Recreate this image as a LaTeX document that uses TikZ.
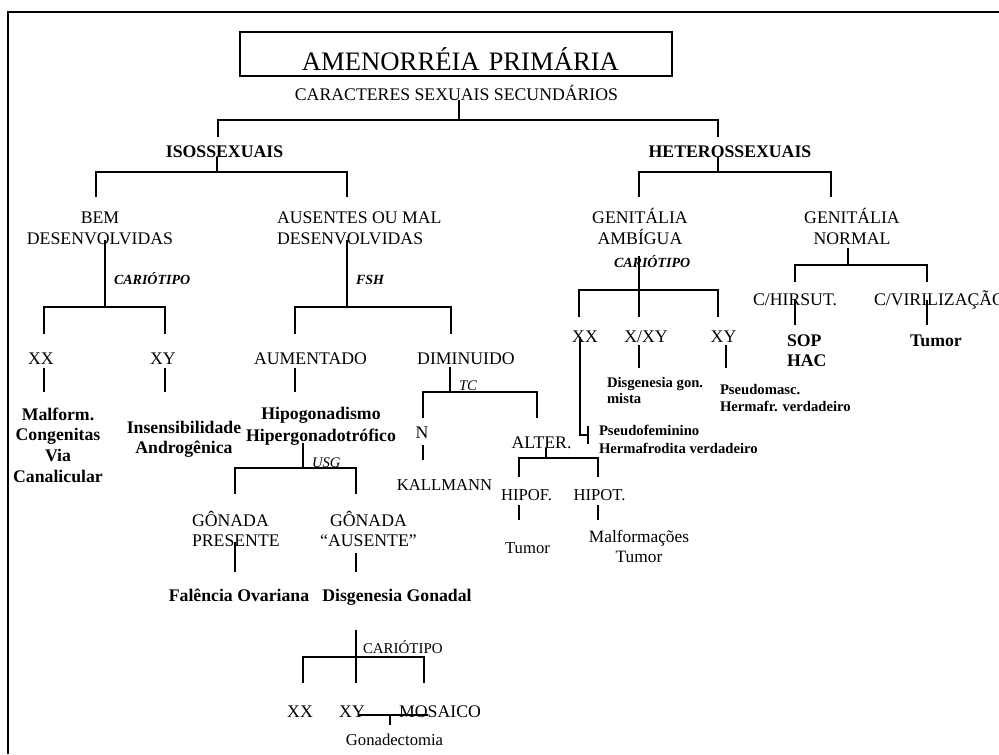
\documentclass[tikz,border=0pt]{standalone}
\usepackage{fontspec}
\setmainfont{Liberation Serif}
\begin{document}
\begin{tikzpicture}[x=0.75pt,y=-0.75pt,
  every node/.style={inner sep=0pt,outer sep=0pt,anchor=base},
  conn/.style={line width=1.5pt},
  t/.style={font=\fontsize{13.3}{15.75}\selectfont, align=center},
  tl/.style={font=\fontsize{13.3}{15}\selectfont, align=left, anchor=base west},
  tm/.style={font=\fontsize{12.5}{15}\selectfont, align=center},
  tb/.style={font=\bfseries\fontsize{13.3}{15.5}\selectfont, align=center},
  tbl/.style={font=\bfseries\fontsize{13.3}{15}\selectfont, align=left, anchor=base west},
  bi/.style={font=\bfseries\itshape\fontsize{10.5}{12}\selectfont, anchor=base west},
  it/.style={font=\itshape\fontsize{11}{12}\selectfont, anchor=base west},
  sm/.style={font=\bfseries\fontsize{11}{13}\selectfont, align=left, anchor=base west}
]
\useasboundingbox (0,0) rectangle (999,754);
% frame
\coordinate (fr1) at (8,754); \coordinate (fr2) at (8,12); \coordinate (fr3) at (999,12);
\draw[line width=2pt] (fr1) -- (fr2) -- (fr3);

% title (multi-line nodes: y is the baseline of the last line)
\node[draw, line width=1.5pt, anchor=north west, text width=324pt, text height=28.5pt,
      text depth=4.5pt, align=center, font=\fontsize{20}{24}\selectfont] (title) at (240,32)
      {\hspace*{6.75pt}AMENORRÉIA PRIMÁRIA};
\node[t] (cs) at (456.5,100) {CARACTERES SEXUAIS SECUNDÁRIOS};

\node[tb] (iso) at (224.5,157) {ISOSSEXUAIS};
\node[tb] (het) at (730,157) {HETEROSSEXUAIS};

\node[t] (bem) at (100,244) {BEM\\DESENVOLVIDAS};
\node[tl, font=\fontsize{13.3}{15.75}\selectfont] (aus) at (277,244) {AUSENTES OU MAL\\DESENVOLVIDAS};
\node[bi] (car1) at (114,284) {CARIÓTIPO};
\node[bi] (fsh) at (356,284) {FSH};
\node[t] (xx1) at (41,364) {XX};
\node[t] (xy1) at (163,364) {XY};
\node[tb] (malf) at (58,482) {Malform.\\Congenitas\\Via\\Canalicular};
\node[tb, font=\bfseries\fontsize{13.3}{15}\selectfont] (ins) at (184,453) {Insensibilidade\\Androgênica};
\node[t] (aum) at (310.5,364) {AUMENTADO};
\node[t] (dim) at (466,364) {DIMINUIDO};
\node[tb, font=\bfseries\fontsize{13.3}{16.5}\selectfont] (hipo) at (321,441) {Hipogonadismo\\Hipergonadotrófico};
\node[it] (usg) at (312,467) {USG};
\node[tl] (gp) at (192,546) {GÔNADA\\PRESENTE};
\node[t, font=\fontsize{13.3}{15}\selectfont] (ga) at (368.5,546) {GÔNADA\\“AUSENTE”};
\node[tb] (fal) at (239,601) {Falência Ovariana};
\node[tb] (dis) at (397,601) {Disgenesia Gonadal};
\node[font=\fontsize{11.2}{13}\selectfont, anchor=base west] (car3) at (363,653) {CARIÓTIPO};
\node[t] (xx3) at (300,717) {XX};
\node[t] (xy3) at (352,717) {XY};
\node[t] (mos) at (440,717) {MOSAICO};
\node[tm] (gon) at (394.5,745) {Gonadectomia};
\node[it] (tc) at (459,390) {TC};
\node[t] (n) at (422,438) {N};
\node[tm] (kal) at (444.5,490) {KALLMANN};
\node[t] (alter) at (541.5,448) {ALTER.};
\node[tm] (hipof) at (526.5,500) {HIPOF.};
\node[tm] (hipot) at (599.5,500) {HIPOT.};
\node[tm] (tum1) at (527.5,553) {Tumor};
\node[t, font=\fontsize{13}{15}\selectfont] (malfo) at (639,562) {Malformações\\Tumor};

\node[t] (gen1) at (640,244) {GENITÁLIA\\AMBÍGUA};
\node[bi] (car2) at (614,267) {CARIÓTIPO};
\node[t] (xx2) at (585,342) {XX};
\node[t] (xxy) at (646,342) {X/XY};
\node[t] (xy2) at (723.5,342) {XY};
\node[sm, font=\bfseries\fontsize{11}{13.5}\selectfont] (pf) at (599,453) {Pseudofeminino\\Hermafrodita verdadeiro};
\node[sm, font=\bfseries\fontsize{11}{12}\selectfont] (dg) at (607,403) {Disgenesia gon.\\mista};
\node[sm, font=\bfseries\fontsize{11}{12.75}\selectfont] (pm) at (720,411) {Pseudomasc.\\Hermafr. verdadeiro};
\node[t] (gen2) at (852,244) {GENITÁLIA\\NORMAL};
\node[t] (hir) at (795,305) {C/HIRSUT.};
\node[tl] (vir) at (874,305) {C/VIRILIZAÇÃO};
\node[tbl] (sop) at (787,366) {SOP\\HAC};
\node[tb] (tum2) at (936,346) {Tumor};

% ---------- connectors ----------
% root fork
\coordinate (k0) at (459,120); \coordinate (k0l) at (218,120); \coordinate (k0r) at (718,120);
\draw[conn] (cs.south -| k0) -- (k0);
\draw[conn] (k0l) ++(0,17) |- (k0r) -- ++(0,17);
% isossexuais fork
\coordinate (k1) at (217,172); \coordinate (k1l) at (96,172); \coordinate (k1r) at (347,172);
\draw[conn] (iso.south -| k1) -- (k1);
\draw[conn] (k1l) ++(0,25) |- (k1r) -- ++(0,25);
% heterossexuais fork
\coordinate (k2) at (718,172); \coordinate (k2l) at (639,172); \coordinate (k2r) at (831,172);
\draw[conn] (het.south -| k2) -- (k2);
\draw[conn] (k2l) ++(0,25) |- (k2r) -- ++(0,25);
% bem desenvolvidas fork
\coordinate (k3) at (105,307); \coordinate (k3l) at (44,307); \coordinate (k3r) at (165,307);
\draw[conn] (k3) ++(0,-67) -- (k3);
\draw[conn] (k3l) ++(0,27) |- (k3r) -- ++(0,27);
\coordinate (xx1b) at (44,368); \coordinate (xy1b) at (165,368);
\draw[conn] (xx1b) -- ++(0,24);
\draw[conn] (xy1b) -- ++(0,24);
% ausentes fork
\coordinate (k4) at (347,307); \coordinate (k4l) at (295,307); \coordinate (k4r) at (451,307);
\draw[conn] (k4) ++(0,-67) -- (k4);
\draw[conn] (k4l) ++(0,27) |- (k4r) -- ++(0,27);
\coordinate (aumb) at (295,368);
\draw[conn] (aumb) -- ++(0,24);
% hipogonadismo fork
\coordinate (k5) at (303,468); \coordinate (k5l) at (235,468); \coordinate (k5r) at (356,468);
\draw[conn] (k5) ++(0,-25) -- (k5);
\draw[conn] (k5l) ++(0,26) |- (k5r) -- ++(0,26);
\coordinate (gpb) at (235,542); \coordinate (gab) at (356,553);
\draw[conn] (gpb) -- ++(0,30);
\draw[conn] (gab) -- ++(0,19);
% disgenesia fork
\coordinate (k6) at (356,630); \coordinate (k6l) at (303,657); \coordinate (k6r) at (424,657);
\draw[conn] (k6) -- ++(0,53);
\draw[conn] (k6l) ++(0,26) |- (k6r) -- ++(0,26);
\coordinate (u1) at (358,715); \coordinate (u2) at (428,715); \coordinate (u3) at (390,715);
\draw[line width=1.1pt] (u1) -- (u2);
\draw[line width=1.1pt] (u3) -- ++(0,10);
% diminuido fork
\coordinate (k7) at (450,392); \coordinate (k7l) at (423,392); \coordinate (k7r) at (537,392);
\draw[conn] (k7) ++(0,-25) -- (k7);
\draw[conn] (k7l) ++(0,26) |- (k7r) -- ++(0,26);
\coordinate (nb) at (423,445);
\draw[conn] (nb) -- ++(0,15);
% alter fork
\coordinate (k8) at (546,458); \coordinate (k8l) at (519,458); \coordinate (k8r) at (598,458);
\draw[conn] (alter.south -| k8) -- (k8);
\draw[conn] (k8l) ++(0,19) |- (k8r) -- ++(0,19);
\coordinate (hfb) at (519,505); \coordinate (htb) at (598,505);
\draw[conn] (hfb) -- ++(0,15);
\draw[conn] (htb) -- ++(0,15);
% genitalia ambigua fork
\coordinate (k9) at (639,290); \coordinate (k9l) at (579,290); \coordinate (k9r) at (718,290);
\draw[conn] (k9) ++(0,-34) -- ++(0,61);
\draw[conn] (k9l) ++(0,27) |- (k9r) -- ++(0,27);
\coordinate (xx2a) at (580,337); \coordinate (xx2c) at (580,435); \coordinate (xx2d) at (588,435);
\draw[line width=1.2pt] (xx2a) -- (xx2c) -- (xx2d);
\draw[line width=1.2pt] (xx2d) ++(0,-9) -- ++(0,18);
\coordinate (xxyb) at (639,345); \coordinate (xy2b) at (726,345);
\draw[conn] (xxyb) -- ++(0,23);
\draw[conn] (xy2b) -- ++(0,23);
% genitalia normal fork
\coordinate (k10) at (848,265); \coordinate (k10l) at (795,265); \coordinate (k10r) at (927,265);
\draw[conn] (gen2.south -| k10) ++(0,4) -- (k10);
\draw[conn] (k10l) ++(0,17) |- (k10r) -- ++(0,17);
\coordinate (hirb) at (795,300); \coordinate (virb) at (927,300);
\draw[conn] (hirb) -- ++(0,25);
\draw[conn] (virb) -- ++(0,25);
\end{tikzpicture}
\end{document}
